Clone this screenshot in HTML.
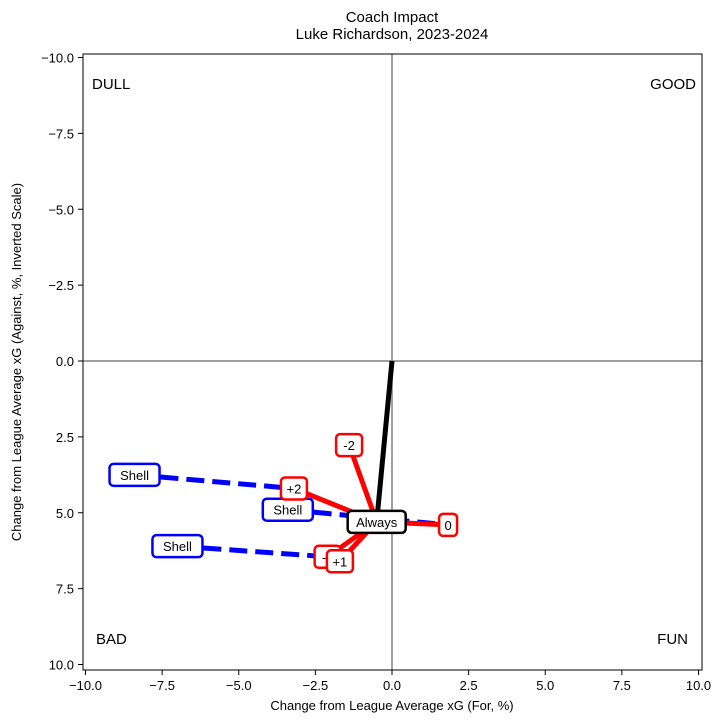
<!DOCTYPE html>
<html><head><meta charset="utf-8"><style>
body{margin:0;background:#fff;}
svg text{font-family:"Liberation Sans","DejaVu Sans",sans-serif;}
</style></head><body>
<svg id="chart" width="723" height="723" xmlns="http://www.w3.org/2000/svg">
<text x="392" y="22" text-anchor="middle" font-size="15">Coach Impact</text>
<text x="392" y="39" text-anchor="middle" font-size="15">Luke Richardson, 2023-2024</text>
<g id="plot"></g>
<rect x="83" y="54" width="619" height="616" fill="none" stroke="#000" stroke-width="1"/>
<text x="392" y="710" text-anchor="middle" font-size="13">Change from League Average xG (For, %)</text>
<text transform="translate(21,362) rotate(-90)" text-anchor="middle" font-size="13">Change from League Average xG (Against, %, Inverted Scale)</text>
<text x="92" y="89" font-size="15">DULL</text>
<text x="696" y="89" text-anchor="end" font-size="15">GOOD</text>
<text x="96" y="644" font-size="15">BAD</text>
<text x="688" y="644" text-anchor="end" font-size="15">FUN</text>
</svg>
<script>
const xTicks=[-10,-7.5,-5,-2.5,0,2.5,5,7.5,10];
const yTicks=[-10,-7.5,-5,-2.5,0,2.5,5,7.5,10];
const alwaysPt=[-0.5,5.3];
const strengthLabels=['-2','0','+2','-1','+1'];
const strengthX=[-1.4,1.83,-3.2,-2.1,-1.7];
const strengthY=[2.77,5.4,4.2,6.45,6.6];
const shellX=[-8.4,-3.4,-7.0];
const shellY=[3.75,4.9,6.1];
const shellTargetX=[-3.2,1.83,-2.1];
const shellTargetY=[4.2,5.4,6.45];
const NS='http://www.w3.org/2000/svg';
function X(v){return 392+v*30.65;}
function Y(v){return 361+v*30.35;}
const g=document.getElementById('plot');
function mk(t,a){const e=document.createElementNS(NS,t);for(const k in a)e.setAttribute(k,a[k]);g.appendChild(e);return e;}
xTicks.forEach(v=>{
 const l=mk('line',{x1:X(v),x2:X(v),y1:670,y2:675,stroke:'#000'});
 
 
 const t=mk('text',{x:X(v),y:690,'text-anchor':'middle','font-size':13});
 
 
 t.textContent=v.toFixed(1).replace('-','\u2212');
});
yTicks.forEach(v=>{
 const l=mk('line',{x1:78,x2:83,y1:Y(v),y2:Y(v),stroke:'#000'});
 
 
 const t=mk('text',{x:74,y:Y(v)+5,'text-anchor':'end','font-size':13});
 
 
 t.textContent=v.toFixed(1).replace('-','\u2212');
});
const vx=mk('line',{x1:X(0),x2:X(0),y1:54,y2:670,stroke:'#808080','stroke-width':1.5});


const hy=mk('line',{x1:83,x2:702,y1:Y(0),y2:Y(0),stroke:'#808080','stroke-width':1.5});


// shell dashed lines
shellX.forEach((v,i)=>{
 const l=mk('line',{x1:X(v),y1:Y(shellY[i]),x2:X(shellTargetX[i]),y2:Y(shellTargetY[i]),stroke:'#0000ff','stroke-width':5,'stroke-dasharray':'18,8'});
 
 
});
// red strength lines
strengthX.forEach((v,i)=>{
 const l=mk('line',{x1:X(alwaysPt[0]),y1:Y(alwaysPt[1]),x2:X(v),y2:Y(strengthY[i]),stroke:'#ff0000','stroke-width':5});
 
 
});
const bl=mk('line',{x1:X(0),y1:Y(0),x2:X(alwaysPt[0]),y2:Y(alwaysPt[1]),stroke:'#000','stroke-width':5});


function label(x,y,txt,color,name){
 const w=txt.length*8+10;
 const r=mk('rect',{x:X(x)-w/2,y:Y(y)-11,width:w,height:22,rx:4,fill:'#fff',stroke:color,'stroke-width':2.5});
 
 
 const t=mk('text',{x:X(x),y:Y(y)+5,'text-anchor':'middle','font-size':13});
 
 
 t.textContent=txt;
}
shellX.forEach((v,i)=>label(v,shellY[i],'Shell','#0000ff','shell-label'));
strengthX.forEach((v,i)=>label(v,strengthY[i],strengthLabels[i],'#ff0000','strength-label'));
label(alwaysPt[0],alwaysPt[1],'Always','#000','always-label');
</script>
</body></html>
